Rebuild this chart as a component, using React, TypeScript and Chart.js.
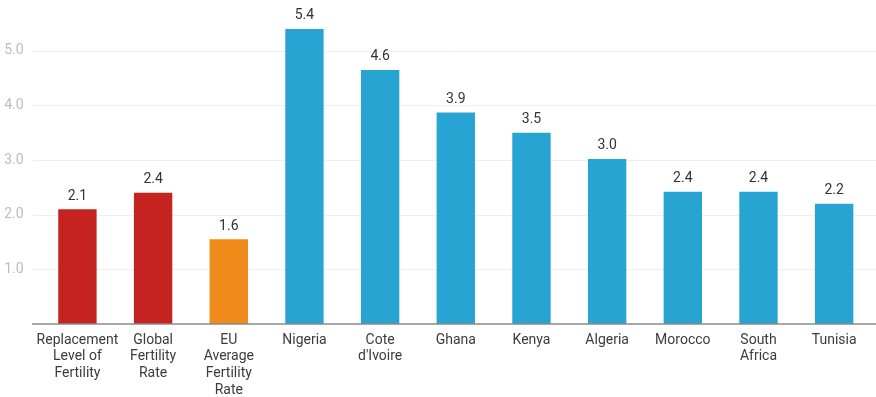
import React, { useEffect, useRef } from "react";
import { Chart, registerables } from "chart.js";

Chart.register(...registerables);

const categories: (string | string[])[] = [
  ["Replacement", "Level of", "Fertility"],
  ["Global", "Fertility", "Rate"],
  ["EU", "Average", "Fertility", "Rate"],
  "Nigeria",
  ["Cote", "d'Ivoire"],
  "Ghana",
  "Kenya",
  "Algeria",
  "Morocco",
  ["South", "Africa"],
  "Tunisia",
];
const values = [2.1, 2.4, 1.55, 5.4, 4.65, 3.87, 3.5, 3.02, 2.42, 2.42, 2.2];
const valueLabels = ["2.1", "2.4", "1.6", "5.4", "4.6", "3.9", "3.5", "3.0", "2.4", "2.4", "2.2"];
const barColors = [
  "#c4231f", "#c4231f", "#f08a1a",
  "#27a4d2", "#27a4d2", "#27a4d2", "#27a4d2", "#27a4d2", "#27a4d2", "#27a4d2", "#27a4d2",
];
const yTicks = [1, 2, 3, 4, 5];

const FONT = "Roboto, 'Noto Sans', sans-serif";

const gridPlugin = {
  id: "fullGrid",
  beforeDatasetsDraw(chart: any) {
    const { ctx } = chart;
    const y = chart.scales.y;
    ctx.save();
    ctx.strokeStyle = "#efefef";
    ctx.lineWidth = 1;
    yTicks.forEach((v) => {
      const py = Math.round(y.getPixelForValue(v)) + 0.5;
      ctx.beginPath();
      ctx.moveTo(33, py);
      ctx.lineTo(chart.width, py);
      ctx.stroke();
    });
    ctx.restore();
  },
  afterDatasetsDraw(chart: any) {
    const { ctx } = chart;
    const y = chart.scales.y;
    ctx.save();
    ctx.strokeStyle = "#8a8a8a";
    ctx.lineWidth = 1.5;
    const py = y.getPixelForValue(0);
    ctx.beginPath();
    ctx.moveTo(32, py);
    ctx.lineTo(chart.width, py);
    ctx.stroke();
    const meta = chart.getDatasetMeta(0);
    ctx.fillStyle = "#333";
    ctx.font = `14px ${FONT}`;
    ctx.textAlign = "center";
    ctx.textBaseline = "middle";
    meta.data.forEach((bar: any, i: number) => {
      ctx.fillText(valueLabels[i], bar.x, bar.y - 13);
    });
    ctx.restore();
  },
};

export default function App() {
  const ref = useRef<HTMLCanvasElement | null>(null);
  useEffect(() => {
    if (!ref.current) return;
    const chart = new Chart(ref.current, {
      type: "bar",
      data: {
        labels: categories,
        datasets: [
          {
            data: values,
            backgroundColor: barColors,
            barPercentage: 0.507,
            categoryPercentage: 1,
          },
        ],
      },
      options: {
        animation: false,
        responsive: true,
        maintainAspectRatio: false,
        layout: { padding: { left: 0, right: 4, top: 0, bottom: 0 } },
        plugins: { legend: { display: false }, tooltip: { enabled: false } },
        scales: {
          x: {
            grid: { display: false },
            border: { display: false },
            ticks: {
              color: "#3c3c3c",
              font: { family: FONT, size: 14, lineHeight: 1.19 },
              padding: 0,
              maxRotation: 0,
              autoSkip: false,
            },
            afterFit: (s: any) => {
              s.height = 73;
              s.paddingLeft = 0;
              s.paddingRight = 0;
            },
          },
          y: {
            min: 0,
            max: 5.93,
            grid: { display: false },
            border: { display: false },
            afterBuildTicks: (s: any) => {
              s.ticks = yTicks.map((v) => ({ value: v }));
            },
            ticks: {
              color: "#bdbdbd",
              font: { family: FONT, size: 14 },
              padding: 8,
              callback: (v: any) => Number(v).toFixed(1),
            },
            afterFit: (s: any) => {
              s.width = 39.6;
              s.paddingTop = 0;
              s.paddingBottom = 0;
            },
          },
        },
      },
      plugins: [gridPlugin],
    });
    return () => chart.destroy();
  }, []);
  return (
    <div style={{ position: "absolute", left: 0, top: 0, width: 876, height: 397, background: "#fff" }}>
      <canvas ref={ref} />
    </div>
  );
}
